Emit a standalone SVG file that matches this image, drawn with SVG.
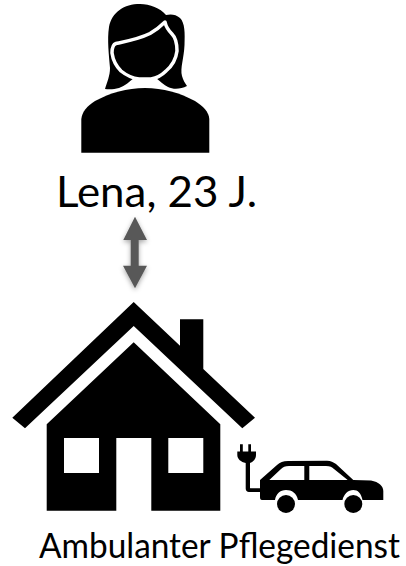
<svg xmlns="http://www.w3.org/2000/svg" width="406" height="566" viewBox="0 0 406 566">
<defs>
<filter id="shadow" x="-60%" y="-20%" width="220%" height="140%"><feDropShadow dx="0" dy="2" stdDeviation="2.5" flood-color="#000" flood-opacity="0.35"/></filter>
</defs>
<style>
text{font-family:"Lato","Liberation Sans",sans-serif;fill:#000}
.k{fill:#000}.w{fill:#fff}
</style>
<rect width="406" height="566" fill="#fff"/>
<g id="person">
<path class="k" d="M105 89C107 82 110 76 110 68C109 55 107 40 109 27C112 12 124 4 140 4C150 4 160 8 166 15C170 14 176 14 180 18C185 23 185 33 184.500 45C184 58 180 68 182 76C183 80 185 83 187 86C181 89 174 90 168 87C164 85 160 81 156 78L134 78C130 81 125 86 119 88C114 89.500 109 89.500 105 89Z"/>
<path class="k" d="M81.300 152.700L209.300 152.700L209.300 119C209 112 203 106 195 101C180 93 163 88 145 88C127 88 110 93 95 101C87 106 82 112 81.300 119Z"/>
<path class="k" stroke="#fff" stroke-width="3.500" stroke-linejoin="round" d="M116 43.500C128 41 139 39 150 33.500C156 30 161 26 165 22C166 27 168 30 172 34C176 38 177 44 177 51C176 59 172 66 166 71C162 75 157 78 151 79L139 79C131 78 126 75 121 71C116 66 113 60 112 53C112 47 113 44.500 116 43.500Z"/>
</g>
<g id="lena-label"><text x="56" y="207" font-size="43" textLength="201" lengthAdjust="spacingAndGlyphs">Lena, 23 J.</text></g>
<g id="connectors">
<path fill="#595959" filter="url(#shadow)" d="M135 216.700L147 240L138.700 240L138.700 265.700L147 265.700L135 288.300L123 265.700L130.700 265.700L130.700 240L123.300 240Z"/>
</g>
<g id="house">
<path class="k" d="M133.700 302L180 345.700L180 319.300L203.300 319.300L203.300 369L255 417.700L242.300 428.300L133.700 326L25 428.300L12.300 417.700Z"/>
<path class="k" fill-rule="evenodd" d="M133.700 342.300L220.300 424.300L220.300 510.700L151.300 510.700L151.300 438L116.300 438L116.300 510.700L46.700 510.700L46.700 424.300ZM64 438L64 473L99 473L99 438ZM168.300 438L168.300 473L203.300 473L203.300 438Z"/>
</g>
<g id="car">
<path class="k" d="M260 480L277 465C280 462.500 283 461 288 461L327 460.700C331 460.700 333 462 336 464L353.300 480L371 480.500C379 482 383.300 486 383.300 491L383.300 500L362.500 500C361 493 358 490 353.300 490C348 490 344 494 342.500 500L298 500C296.500 493 292 490 286 490C280 490 276 494 275 500L262 500C260.500 500 260 499 260 497Z"/>
<path class="w" d="M269.300 480L281 469C283 467 285 466 289 466L304.300 466L304.300 480Z"/>
<path class="w" d="M309.300 466L326 466C330 466 332 467 334 469L347.700 480L309.300 480Z"/>
<circle class="k" cx="286" cy="504" r="9"/>
<circle class="k" cx="353.300" cy="504" r="9"/>
<path class="k" d="M240 444.300L242.800 444.300L242.800 451.500L248.300 451.500L248.300 444.300L251 444.300L251 451.500L256 451.500L256 455C256 459 253 462 250 463L250 487.500C250 488 250 488.200 250.500 488.200L261 488.200L261 492L249 492C247 492 245.700 490.500 245.700 488.500L245.700 463C241 462 237.300 459 237.300 455L237.300 451.500L240 451.500Z"/>
</g>
<g id="pflegedienst-label"><text x="39" y="558" font-size="34" textLength="361" lengthAdjust="spacingAndGlyphs">Ambulanter Pflegedienst</text></g>
</svg>
